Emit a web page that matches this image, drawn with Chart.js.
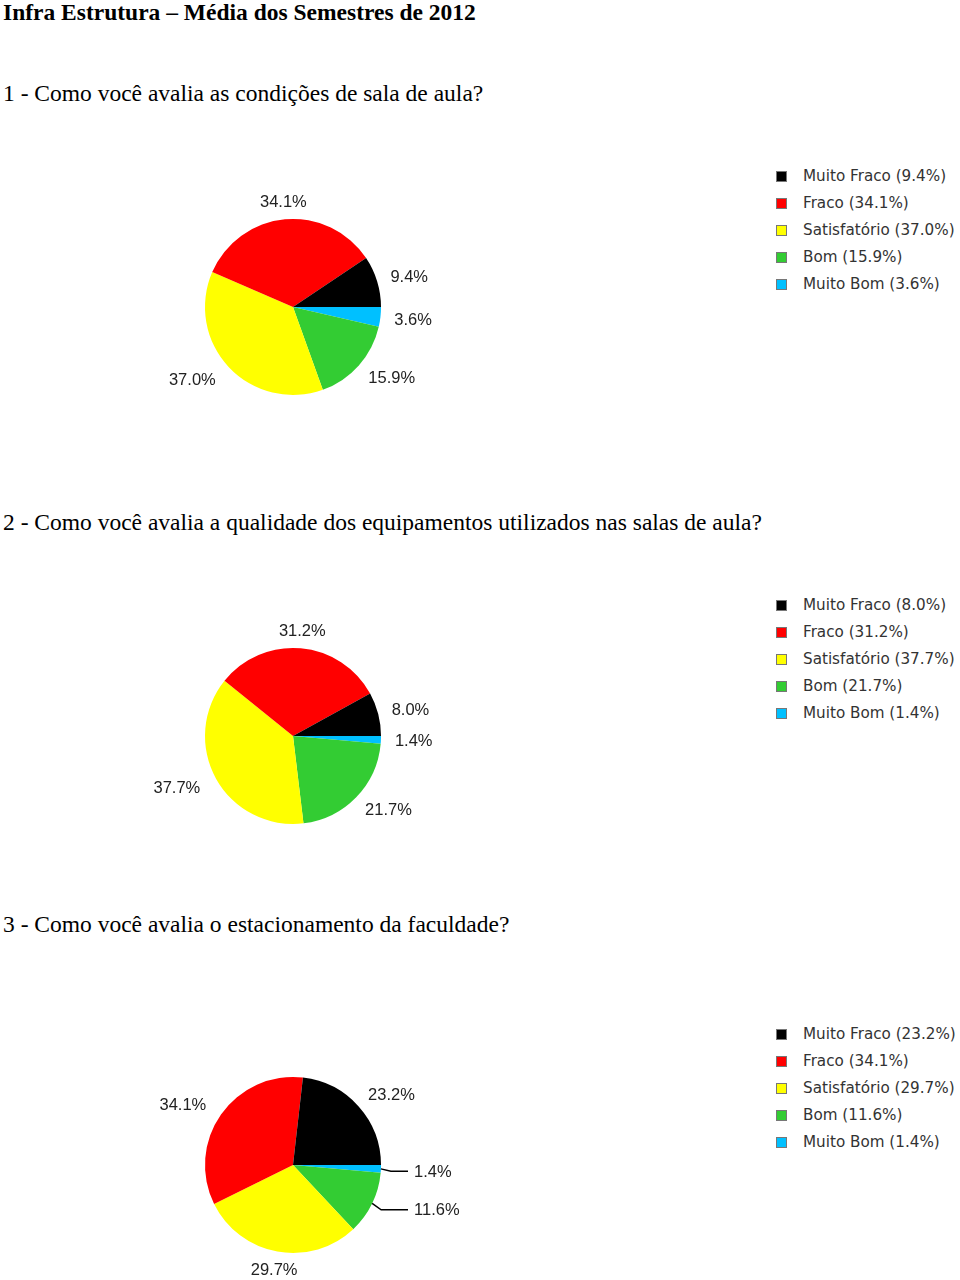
<!DOCTYPE html>
<html>
<head>
<meta charset="utf-8">
<script src="https://cdn.jsdelivr.net/npm/chart.js@4.4.1/dist/chart.umd.min.js"></script>
<style>
  body { margin: 0; background: #fff; width: 960px; height: 1280px; position: relative; overflow: hidden; }
  .txt { position: absolute; left: 3px; font-family: "Liberation Serif", "Times New Roman", serif; color: #000; white-space: nowrap; line-height: 27px; }
  .title { font-weight: bold; font-size: 23.5px; top: -1px; }
  .q { font-size: 23.5px; }
  .block { position: absolute; left: 0; width: 960px; height: 260px; }
  .block canvas { position: absolute; left: 0; top: 0; }
  .legend { position: absolute; left: 776px; top: -14px; margin: 0; padding: 0; list-style: none;
            font-family: "DejaVu Sans", sans-serif; font-size: 15.2px; color: #333; }
  .legend li { height: 27px; line-height: 27px; white-space: nowrap; }
  .legend span.box { display: inline-block; width: 9px; height: 9px; border: 1px solid #777; margin-right: 16px; vertical-align: -1px; }
</style>
</head>
<body>
<div class="txt title">Infra Estrutura – Média dos Semestres de 2012</div>
<div class="txt q" style="top:80px">1 - Como você avalia as condições de sala de aula?</div>
<div class="txt q" style="top:509px">2 - Como você avalia a qualidade dos equipamentos utilizados nas salas de aula?</div>
<div class="txt q" style="top:911px">3 - Como você avalia o estacionamento da faculdade?</div>

<div class="block" style="top:177px"><canvas id="pie1" width="586" height="260"></canvas><ul class="legend" id="legend1"></ul></div>
<div class="block" style="top:606px"><canvas id="pie2" width="586" height="260"></canvas><ul class="legend" id="legend2"></ul></div>
<div class="block" style="top:1035px"><canvas id="pie3" width="586" height="260"></canvas><ul class="legend" id="legend3"></ul></div>

<script>
// categories (legend order)
const categories = ['Muito Fraco', 'Fraco', 'Satisfatório', 'Bom', 'Muito Bom'];
const sliceColors = ['#000000', '#FF0000', '#FFFF00', '#33CC33', '#00C0FF'];

// percentages per question
const salaValues = [9.4, 34.1, 37.0, 15.9, 3.6];
const equipValues = [8.0, 31.2, 37.7, 21.7, 1.4];
const estacValues = [23.2, 34.1, 29.7, 11.6, 1.4];

// labels outside the pie, with optional leader lines
const outsideLabels = {
  id: 'outsideLabels',
  afterDatasetsDraw(chart, args, opts) {
    const ctx = chart.ctx;
    const meta = chart.getDatasetMeta(0);
    const ds = chart.data.datasets[0];
    ctx.save();
    ctx.font = '16.5px "Liberation Sans", Arial, sans-serif';
    ctx.fillStyle = '#222';
    ctx.strokeStyle = '#000';
    ctx.lineWidth = 1.5;
    ctx.textBaseline = 'middle';
    meta.data.forEach((arc, i) => {
      const p = arc.getProps(['x', 'y', 'startAngle', 'endAngle', 'outerRadius'], true);
      const mid = (p.startAngle + p.endAngle) / 2;
      const c = Math.cos(mid), s = Math.sin(mid);
      const text = ds.data[i].toFixed(1) + '%';
      if (opts.leaders && c > 0 && Math.abs(s) < 0.5) {
        const ex = p.x + p.outerRadius * c, ey = p.y + p.outerRadius * s;
        const kx = p.x + (p.outerRadius + 10) * c, ky = p.y + (p.outerRadius + 10) * s;
        const endX = p.x + p.outerRadius + 27;
        ctx.beginPath();
        ctx.moveTo(ex, ey);
        ctx.lineTo(kx, ky + 2);
        ctx.lineTo(endX, ky + 2);
        ctx.stroke();
        ctx.textAlign = 'left';
        ctx.fillText(text, endX + 6, ky + 3);
        return;
      }
      const r = p.outerRadius + 18;
      const x = p.x + r * c, y = p.y + r * s;
      ctx.textAlign = c > 0.3 ? 'left' : (c < -0.3 ? 'right' : 'center');
      ctx.fillText(text, c > 0.3 ? x - 4 : x, y + 1);
    });
    ctx.restore();
  }
};

// html legend in category order
function fillLegend(id, values) {
  const ul = document.getElementById(id);
  categories.forEach((cat, i) => {
    const li = document.createElement('li');
    const box = document.createElement('span');
    box.className = 'box';
    box.style.background = sliceColors[i];
    li.appendChild(box);
    li.appendChild(document.createTextNode(cat + ' (' + values[i].toFixed(1) + '%)'));
    ul.appendChild(li);
  });
}

function makePie(canvasId, legendId, values, leaders) {
  // slices go counter-clockwise from 3 o'clock, so feed them reversed
  const ctx = document.getElementById(canvasId).getContext('2d');
  new Chart(ctx, {
    type: 'pie',
    data: {
      labels: categories.slice().reverse(),
      datasets: [{
        data: values.slice().reverse(),
        backgroundColor: sliceColors.slice().reverse(),
        borderWidth: 0,
        radius: 88
      }]
    },
    options: {
      responsive: false,
      maintainAspectRatio: false,
      animation: false,
      rotation: 90,
      plugins: {
        legend: { display: false },
        tooltip: { enabled: false },
        outsideLabels: { leaders: leaders }
      }
    },
    plugins: [outsideLabels]
  });
  fillLegend(legendId, values);
}

makePie('pie1', 'legend1', salaValues, false);
makePie('pie2', 'legend2', equipValues, false);
makePie('pie3', 'legend3', estacValues, true);
</script>
</body>
</html>
